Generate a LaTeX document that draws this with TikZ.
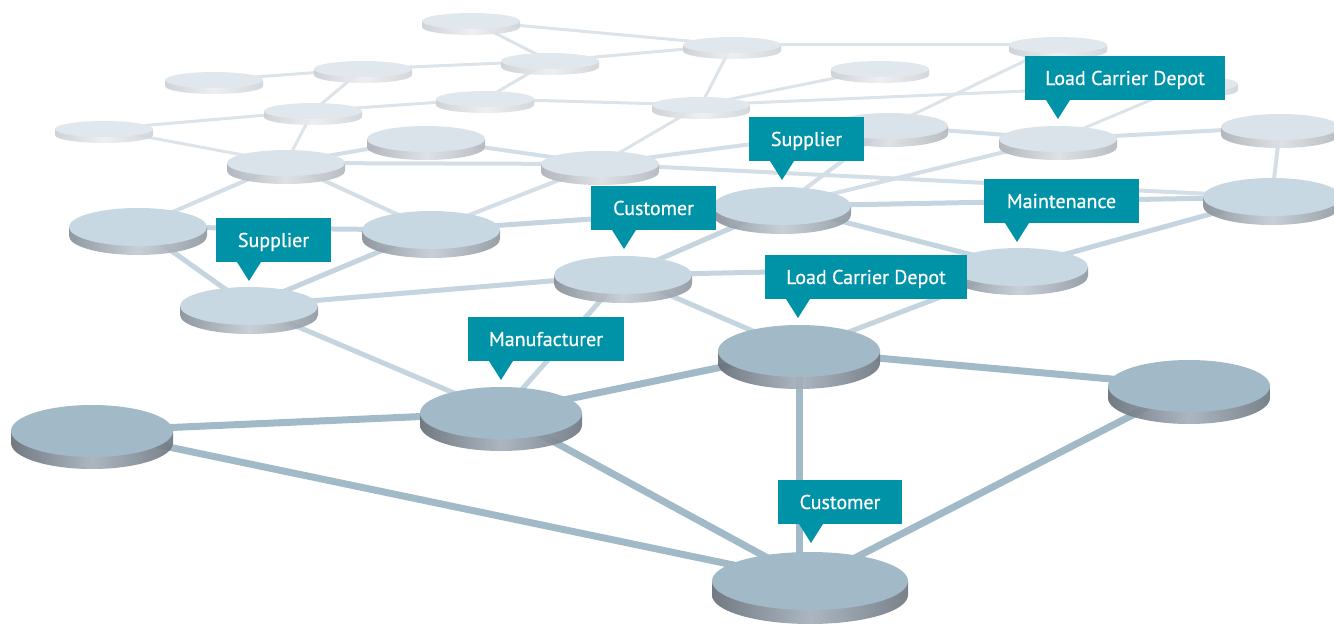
\documentclass[tikz,border=0pt]{standalone}
\usepackage{fontspec}
\setmainfont{PT Sans}
\newfontfamily\calloutfont[FakeBold=0.6]{PT Sans}
\definecolor{topF}{HTML}{A2BAC7}
\definecolor{topM}{HTML}{C8D8E2}
\definecolor{topL}{HTML}{DAE3EA}
\definecolor{topV}{HTML}{E1E8ED}
\definecolor{edF}{HTML}{A2BAC7}
\definecolor{edM}{HTML}{C5D5DF}
\definecolor{edL}{HTML}{D3DEE6}
\definecolor{edV}{HTML}{DCE4EA}
\definecolor{sFl}{HTML}{666E77}\definecolor{sFm}{HTML}{A4B0BC}\definecolor{sFr}{HTML}{6E7780}
\definecolor{sMl}{HTML}{878F98}\definecolor{sMm}{HTML}{C3CBD4}\definecolor{sMr}{HTML}{8F97A0}
\definecolor{sLl}{HTML}{ABB1B7}\definecolor{sLm}{HTML}{DADFE4}\definecolor{sLr}{HTML}{B3B8BE}
\definecolor{sVl}{HTML}{CACFD4}\definecolor{sVm}{HTML}{ECEEF1}\definecolor{sVr}{HTML}{CFD4D8}
\definecolor{calloutteal}{HTML}{0093A8}
\tikzset{
  edgeV/.style={draw=edV, line width=3pt},
  edgeL/.style={draw=edL, line width=4pt},
  edgeM/.style={draw=edM, line width=5pt},
  edgeF/.style={draw=edF, line width=7pt},
  discsideF/.style={left color=sFl, right color=sFr, middle color=sFm},
  discsideM/.style={left color=sMl, right color=sMr, middle color=sMm},
  discsideL/.style={left color=sLl, right color=sLr, middle color=sLm},
  discsideV/.style={left color=sVl, right color=sVr, middle color=sVm},
  disctopF/.style={fill=topF},
  disctopM/.style={fill=topM},
  disctopL/.style={fill=topL},
  disctopV/.style={fill=topV},
  calloutbox/.style={fill=calloutteal, text=white, inner sep=0pt, outer sep=0pt,
    minimum height=44pt, text height=14pt, text depth=0pt, anchor=north west,
    font=\calloutfont\fontsize{20}{24}\selectfont},
}
% name, rx, ry, thickness, tier
\newcommand\drawdisc[5]{%
  \shade[discside#5, fill opacity=0.92] ([xshift=-#2pt]#1) -- ++(0,-#4)
    arc[start angle=180, end angle=360, x radius=#2pt, y radius=#3pt] -- ++(0,#4) -- cycle;
  \fill[disctop#5] (#1) ellipse [x radius=#2pt, y radius=#3pt];
}
% name, left, top, width, text
\newcommand\callout[5]{%
  \node[calloutbox, minimum width=#4pt] (#1) at (#2,-#3) {#5};
  \fill[calloutteal] ([xshift=21pt]#1.south west) -- ([xshift=45pt]#1.south west)
    -- ([xshift=33pt,yshift=-19pt]#1.south west) -- cycle;
}
\begin{document}
\begin{tikzpicture}[x=1pt,y=1pt]
\useasboundingbox (0,0) rectangle (1334,-626);
% far tier
\coordinate (V1) at (104,-129);
\coordinate (V2) at (313,-111);
\coordinate (V3) at (214,-80);
\coordinate (V4) at (363,-69);
\coordinate (V5) at (485,-99);
\coordinate (V6) at (550,-61);
\coordinate (V7) at (471,-21);
\coordinate (V8) at (732,-45);
\coordinate (V9) at (701,-105);
\coordinate (V10) at (880,-69);
\coordinate (V11) at (1058,-45);
\coordinate (V12) at (1189,-84);
% third tier
\coordinate (L1) at (286,-163);
\coordinate (L2) at (426,-139);
\coordinate (L3) at (600,-164);
\coordinate (L4) at (889,-126);
\coordinate (L5) at (1058,-139);
\coordinate (L6) at (1280,-127);
% second tier
\coordinate (M1) at (138,-227);
\coordinate (M2) at (249,-306);
\coordinate (M3) at (431,-230);
\coordinate (M4) at (623,-275);
\coordinate (M5) at (782,-206);
\coordinate (M6) at (1019,-267);
\coordinate (M7) at (1272,-197);
% front tier
\coordinate (F1) at (92,-431);
\coordinate (F2) at (501,-413);
\coordinate (F3) at (799,-351);
\coordinate (F4) at (1189,-386);
\coordinate (F5) at (810,-581);

% connectors
\draw[edgeV] (V7) -- (V6);
\draw[edgeV] (V7) -- (V8);
\draw[edgeV] (V6) -- (V8);
\draw[edgeV] (V8) -- (V11);
\draw[edgeV] (V8) -- (V9);
\draw[edgeV] (V4) -- (V6);
\draw[edgeV] (V3) -- (V4);
\draw[edgeV] (V4) -- (V2);
\draw[edgeV] (V2) -- (L1);
\draw[edgeV] (V1) -- (V2);
\draw[edgeV] (V1) -- (L1);
\draw[edgeV] (V2) -- (V5);
\draw[edgeV] (V5) -- (V6);
\draw[edgeV] (V5) -- (V9);
\draw[edgeV] (V9) -- (L3);
\draw[edgeV] (V9) -- (V10);
\draw[edgeV] (V9) -- (V12);
\draw[edgeV] (V11) -- (L4);
\draw[edgeV] (L5) -- (V12);

\draw[edgeL] (L1) -- (L2);
\draw[edgeL] (L1) -- (L3);
\draw[edgeL] (L2) -- (L3);
\draw[edgeL] (L1) -- (M1);
\draw[edgeL] (L1) -- (M3);
\draw[edgeL] (L3) -- (M3);
\draw[edgeL] (L3) -- (M7);
\draw[edgeL] (L3) -- (L4);
\draw[edgeL] (L4) -- (L5);
\draw[edgeL] (L5) -- (L6);
\draw[edgeL] (L6) -- (M7);
\draw[edgeL] (M5) -- (L4);
\draw[edgeL] (M5) -- (L5);

\draw[edgeM] (M1) -- (M3);
\draw[edgeM] (M1) -- (M2);
\draw[edgeM] (M3) -- (M2);
\draw[edgeM] (M2) -- (M4);
\draw[edgeM] (M3) -- (M5);
\draw[edgeM] (M4) -- (M5);
\draw[edgeM] (M4) -- (M6);
\draw[edgeM] (M5) -- (M6);
\draw[edgeM] (M5) -- (M7);
\draw[edgeM] (M6) -- (M7);
\draw[edgeM] (M2) -- (F2);
\draw[edgeM] (M4) -- (F2);
\draw[edgeM] (M4) -- (F3);
\draw[edgeM] (M6) -- (F3);

\draw[edgeF] (F1) -- (F2);
\draw[edgeF] (F1) -- (F5);
\draw[edgeF] (F2) -- (F3);
\draw[edgeF] (F2) -- (F5);
\draw[edgeF] (F3) -- (F3 |- F5);
\draw[edgeF] (F3) -- (F4);
\draw[edgeF] (F4) -- (F5);

% discs
\foreach \n in {V7,V11,V8,V6,V4,V10,V3,V12,V5,V9,V2,V1}{\drawdisc{\n}{49}{8}{6}{V}}
\foreach \n in {L4,L6,L2,L5,L1,L3}{\drawdisc{\n}{59}{13}{8}{L}}
\foreach \n in {M7,M5,M1,M3,M6,M4,M2}{\drawdisc{\n}{69}{19}{9}{M}}
\foreach \n in {F3,F4,F2,F1}{\drawdisc{\n}{81}{26}{12}{F}}
\drawdisc{F5}{98}{29}{14}{F}

% callouts
\callout{lcdA}{1025}{56}{200}{Load Carrier Depot}
\callout{supA}{749}{117}{115}{Supplier}
\callout{cusA}{591}{186}{125}{Customer}
\callout{maint}{984}{179}{155}{Maintenance}
\callout{supB}{216}{218}{115}{Supplier}
\callout{lcdB}{765}{255}{202}{Load Carrier Depot}
\callout{manu}{468}{317}{156}{Manufacturer}
\callout{cusB}{778}{480}{124}{Customer}
\end{tikzpicture}
\end{document}
